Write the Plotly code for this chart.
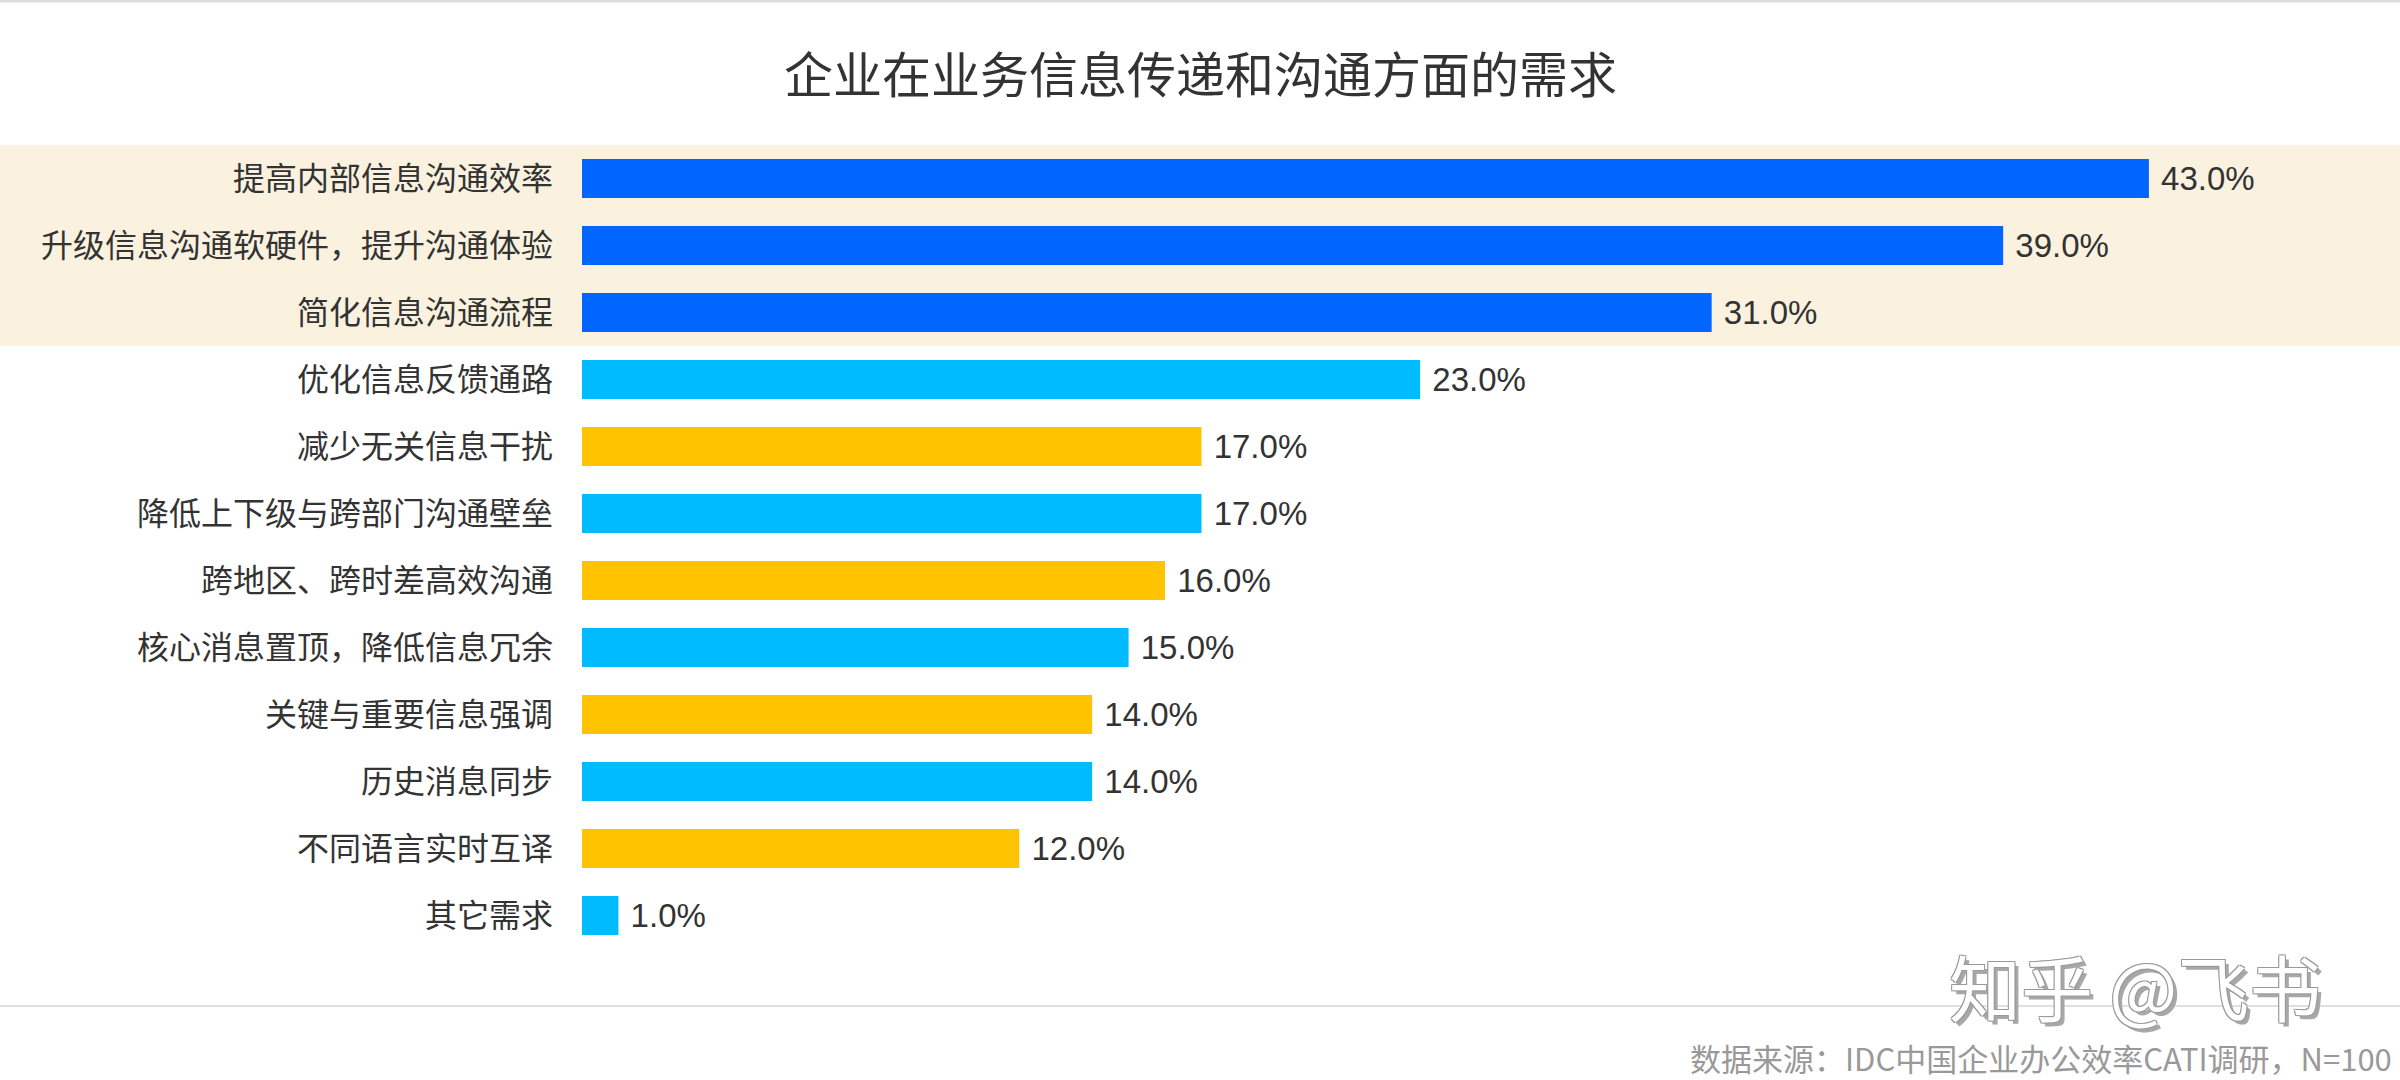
import plotly.graph_objects as go

# ---- data ----
categories = [
    "提高内部信息沟通效率",
    "升级信息沟通软硬件，提升沟通体验",
    "简化信息沟通流程",
    "优化信息反馈通路",
    "减少无关信息干扰",
    "降低上下级与跨部门沟通壁垒",
    "跨地区、跨时差高效沟通",
    "核心消息置顶，降低信息冗余",
    "关键与重要信息强调",
    "历史消息同步",
    "不同语言实时互译",
    "其它需求",
]
values = [43.0, 39.0, 31.0, 23.0, 17.0, 17.0, 16.0, 15.0, 14.0, 14.0, 12.0, 1.0]
color_groups = ["top", "top", "top", "a", "b", "a", "b", "a", "b", "a", "b", "a"]
highlight_count = 3
title_text = "企业在业务信息传递和沟通方面的需求"
source_text = "数据来源：IDC中国企业办公效率CATI调研，N=100"
watermark_text = "知乎 @飞书"

# ---- styling ----
palette = {"top": "#0066FF", "a": "#00BBFF", "b": "#FFC300"}
W, H = 2400, 1080
ML, MR, MT, MB = 582, 100, 145, 131
PW = W - ML - MR
PH = H - MT - MB
px_per_unit = 36.44
xmax = PW / px_per_unit
FONT = "Noto Sans CJK SC"
NUMFONT = "Liberation Sans"


def paper_x(px):
    return (px - ML) / PW


def paper_y(py):
    return (H - MB - py) / PH


fig = go.Figure(
    go.Bar(
        x=values,
        y=categories,
        orientation="h",
        marker=dict(color=[palette[g] for g in color_groups], line=dict(width=0)),
        text=["\u00a0" + f"{v:.1f}%" for v in values],
        textposition="outside",
        textfont=dict(family=NUMFONT, size=33, color="#333333"),
        cliponaxis=False,
        hoverinfo="skip",
    )
)

shapes = [
    # highlight band behind top categories
    dict(type="rect", xref="paper", yref="y",
         x0=paper_x(0), x1=paper_x(W), y0=-0.5, y1=highlight_count - 0.5,
         fillcolor="#FAF2DF", line=dict(width=0), layer="below"),
    # top border line
    dict(type="line", xref="paper", yref="paper",
         x0=paper_x(0), x1=paper_x(W), y0=paper_y(1), y1=paper_y(1),
         line=dict(color="#DDDDDD", width=3)),
    # bottom separator line
    dict(type="line", xref="paper", yref="paper",
         x0=paper_x(0), x1=paper_x(W), y0=paper_y(1006), y1=paper_y(1006),
         line=dict(color="#E0E0E0", width=2)),
]

annotations = [
    dict(text=title_text, xref="paper", yref="paper",
         x=paper_x(1200), y=paper_y(72), xanchor="center", yanchor="middle",
         showarrow=False, font=dict(family=FONT, size=49, color="#333333")),
    dict(text=source_text, xref="paper", yref="paper",
         x=paper_x(2394), y=paper_y(1057), xanchor="right", yanchor="middle",
         showarrow=False, font=dict(family=FONT, size=31, color="#999999")),
    dict(text=watermark_text, xref="paper", yref="paper",
         x=paper_x(2135), y=paper_y(984), xanchor="center", yanchor="middle",
         showarrow=False,
         font=dict(family=FONT, size=72, color="#FFFFFF",
                   shadow="-1px -1px 0 #9a9a9a, 1px -1px 0 #9a9a9a, -1px 1px 0 #9a9a9a, 1px 1px 0 #9a9a9a, 4px 4px 0 #a8a8a8")),
]

fig.update_layout(
    width=W, height=H,
    margin=dict(l=ML, r=MR, t=MT, b=MB),
    paper_bgcolor="#FFFFFF", plot_bgcolor="rgba(0,0,0,0)",
    bargap=0.42,
    showlegend=False,
    shapes=shapes,
    annotations=annotations,
    xaxis=dict(range=[0, xmax], visible=False, showgrid=False, zeroline=False, fixedrange=True),
    yaxis=dict(autorange="reversed", showgrid=False, zeroline=False, showline=False,
               ticks="", ticklabelstandoff=28,
               tickfont=dict(family=FONT, size=32, color="#333333"), fixedrange=True),
    font=dict(family=FONT),
)

fig.write_html("out.html", config={"displayModeBar": False},
               post_script="document.body.style.margin='0';document.body.style.overflow='hidden';")
